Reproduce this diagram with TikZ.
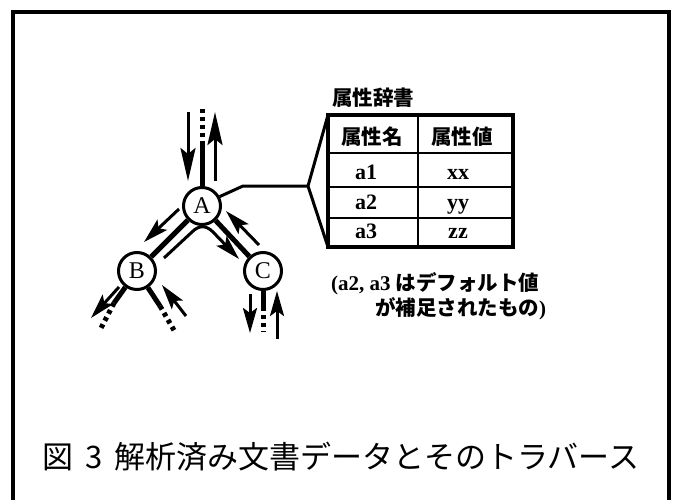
\documentclass[tikz,border=0pt]{standalone}
\usepackage{fontspec}
\setmainfont{Liberation Serif}
\newfontfamily\jp{Noto Sans CJK JP}
\usetikzlibrary{arrows.meta}
\begin{document}
\begin{tikzpicture}[x=1pt,y=-1pt,
  frameline/.style={line width=3.4pt},
  vert/.style={circle, draw, line width=3pt, minimum size=37pt, inner sep=0pt, font=\fontsize{24}{24}\selectfont},
  edge/.style={line width=5pt},
  dots/.style={line width=5pt, dash pattern=on 4pt off 4pt},
  trav/.style={line width=3pt, -{Stealth[length=25pt,width=14pt,inset=5pt]}},
  bigtrav/.style={line width=3pt, -{Stealth[length=33pt,width=15pt,inset=6pt]}},
  jpb/.style={font=\jp\bfseries\fontsize{20.5}{20.5}\selectfont, inner sep=0pt},
  lat/.style={font=\bfseries\fontsize{22}{22}\selectfont, inner sep=0pt, anchor=base},
  tbl/.style={line width=3.2pt},
  tblin/.style={line width=2.6pt}
]
\useasboundingbox (0,0) rectangle (677,500);
% frame
\draw[frameline] (13,500) -- (13,12) -- (669,12) -- (669,500);

% tree nodes
\node[vert] (A) at (202,206) {A};
\node[vert] (B) at (137,271) {B};
\node[vert] (C) at (263,271) {C};

% edges
\draw[edge] (A) -- (B);
\draw[edge] (A) -- (C);

% A upward
\coordinate (Atop) at (202,145);
\coordinate (Aend) at (202,106);
\draw[edge] (A) -- (Atop);
\draw[dots] (Atop) -- (Aend);
\coordinate (a1s) at (188,112); \coordinate (a1e) at (188,181);
\draw[bigtrav] (a1s) -- (a1e);
\coordinate (a2s) at (215,181); \coordinate (a2e) at (215,112);
\draw[bigtrav] (a2s) -- (a2e);

% arrows along A-B and A-C
\coordinate (b1s) at (179,209); \coordinate (b1e) at (144,242);
\draw[trav] (b1s) -- (b1e);
\coordinate (c1s) at (259,245); \coordinate (c1e) at (226,211);
\draw[trav] (c1s) -- (c1e);
\coordinate (ts) at (164,258); \coordinate (t1) at (192,232);
\coordinate (t2) at (213,232); \coordinate (te) at (239,259);
\draw[trav] (ts) -- (t1) .. controls (199,225) and (206,225) .. (t2) -- (te);

% B children
\coordinate (bl1) at (114,303); \coordinate (bl2) at (100,330);
\draw[edge] (B) -- (bl1);
\draw[dots] (bl1) -- (bl2);
\coordinate (bla) at (119,287); \coordinate (blb) at (91,318);
\draw[trav] (bla) -- (blb);
\coordinate (br1) at (160,306); \coordinate (br2) at (175,332);
\draw[edge] (B) -- (br1);
\draw[dots] (br1) -- (br2);
\coordinate (bra) at (186,316); \coordinate (brb) at (162,285);
\draw[trav] (bra) -- (brb);

% C children
\coordinate (cd1) at (263,307); \coordinate (cd2) at (263,332);
\draw[edge] (C) -- (cd1);
\draw[dots] (cd1) -- (cd2);
\coordinate (cla) at (250,294); \coordinate (clb) at (250,333);
\draw[trav] (cla) -- (clb);
\coordinate (cra) at (277,339); \coordinate (crb) at (277,291);
\draw[trav] (cra) -- (crb);

% connector to table
\coordinate (k1) at (243,186);
\coordinate (apex) at (308,186);
\coordinate (tl) at (328,115);
\coordinate (bl) at (328,247);
\draw[line width=3pt, line join=miter] (A.28) -- (k1) -- (apex);
\draw[line width=3pt] (tl) -- (apex) -- (bl);

% table
\node[jpb] (dict) at (373,98) {属性辞書};
\draw[tbl] (tl) rectangle (513,247);
\draw[tblin] (418,115) -- (418,247);
\draw[tblin] (328,153) -- (513,153);
\draw[tblin] (328,187) -- (513,187);
\draw[tblin] (328,218) -- (513,218);
\node[jpb] (h1) at (372,137) {属性名};
\node[jpb] (h2) at (462,137) {属性値};
\node[lat] (r1a) at (366,179) {a1};
\node[lat] (r1b) at (458,179) {xx};
\node[lat] (r2a) at (366,209) {a2};
\node[lat] (r2b) at (458,209) {yy};
\node[lat] (r3a) at (366,238) {a3};
\node[lat] (r3b) at (458,238) {zz};

% note
\node[anchor=base west, inner sep=0pt] (note1) at (331,290)
  {\bfseries\fontsize{21}{21}\selectfont (a2, a3 {\jp\fontsize{20.5}{20.5}\selectfont はデフォルト値}};
\node[anchor=base west, inner sep=0pt] (note2) at (375,315)
  {\bfseries\fontsize{21}{21}\selectfont {\jp\fontsize{20.5}{20.5}\selectfont が補足されたもの})};

% caption
\node[inner sep=0pt] (cap) at (341,457)
  {\jp\fontsize{31}{31}\selectfont 図\kern12pt 3\kern12pt 解析済み文書データとそのトラバース};
\end{tikzpicture}
\end{document}
